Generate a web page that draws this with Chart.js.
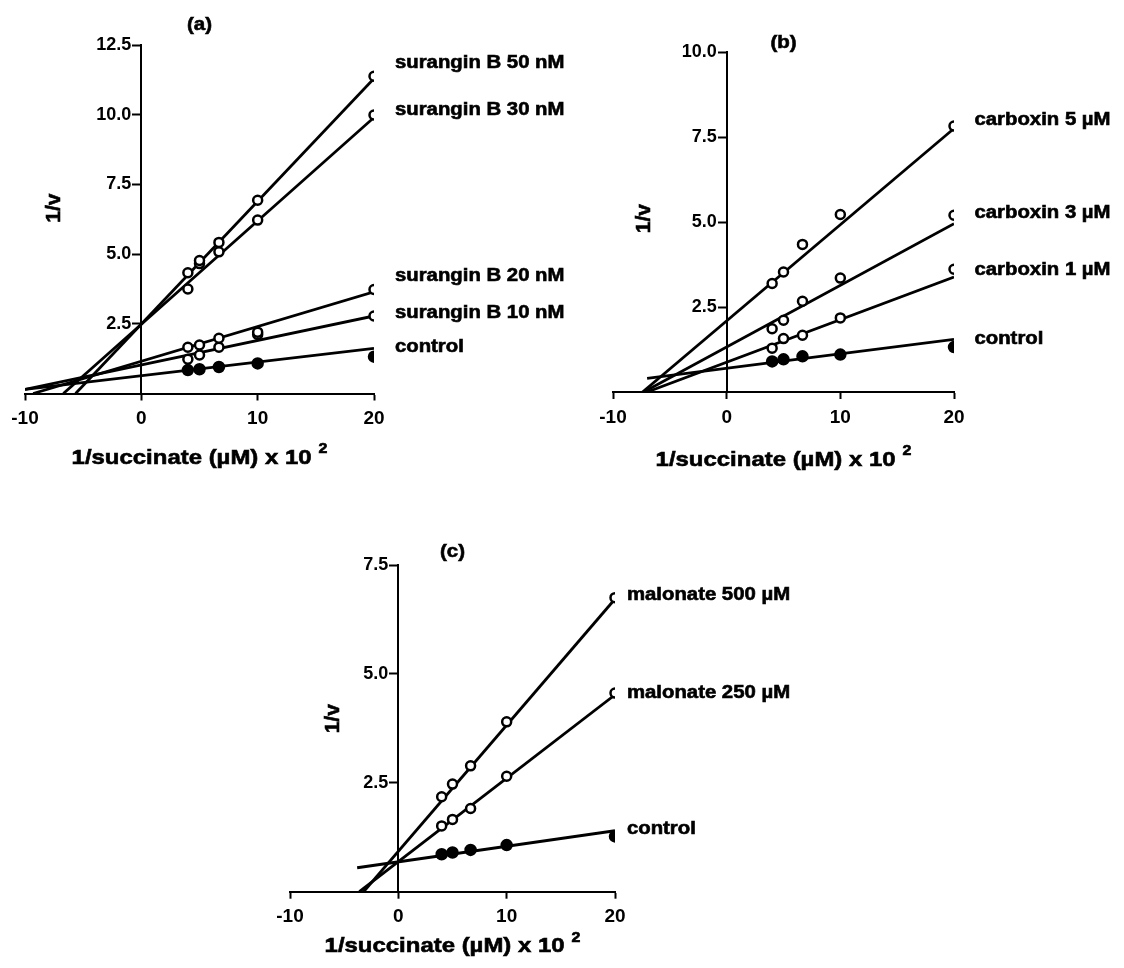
<!DOCTYPE html>
<html>
<head>
<meta charset="utf-8">
<title>Lineweaver-Burk plots</title>
<script src="https://cdn.jsdelivr.net/npm/chart.js@4.4.1/dist/chart.umd.min.js"></script>
<style>
  html, body { margin: 0; padding: 0; background: #fff; }
  body { width: 1124px; height: 968px; position: relative; overflow: hidden; }
  canvas { position: absolute; left: 0; top: 0; }
</style>
</head>
<body>
<canvas id="panelA" width="1124" height="968"></canvas>
<canvas id="panelB" width="1124" height="968"></canvas>
<canvas id="panelC" width="1124" height="968"></canvas>
<script>
// 1/succinate (uM) x 10^2 - same five concentrations in every panel
const succinateInv = [4, 5, 6.67, 10, 20];
const xTicks = [-10, 0, 10, 20];

// (a) surangin B
const suranginNames = ['surangin B 50 nM', 'surangin B 30 nM', 'surangin B 20 nM', 'surangin B 10 nM', 'control'];
const surangin50 = [4.33, 4.77, 5.42, 6.93, 11.38];
const surangin30 = [3.75, 4.66, 5.08, 6.22, 9.99];
const surangin20 = [1.66, 1.74, 1.98, 2.2, 3.73];
const surangin10 = [1.23, 1.38, 1.66, 2.12, 2.78];
const controlA = [0.84, 0.87, 0.95, 1.08, 1.32];
// fitted lines: x0, y0, x1, y1
const suranginFits = [
    [-5.65, 0, 20, 11.3],
    [-6.7, 0, 20, 9.9],
    [-9.3, 0, 20, 3.65],
    [-10, 0.15, 20, 2.78],
    [-10, 0.15, 20, 1.62]
];
const suranginLabelY = [11.85, 10.15, 4.2, 2.87, 1.68];
const yTicksA = [2.5, 5, 7.5, 10, 12.5];

// (b) carboxin
const carboxinNames = ['carboxin 5 \u00b5M', 'carboxin 3 \u00b5M', 'carboxin 1 \u00b5M', 'control'];
const carboxin5 = [3.19, 3.53, 4.34, 5.22, 7.82];
const carboxin3 = [1.86, 2.11, 2.67, 3.35, 5.2];
const carboxin1 = [1.29, 1.57, 1.67, 2.18, 3.61];
const controlB = [0.9, 0.96, 1.05, 1.1, 1.32];
const carboxinFits = [
    [-7.4, 0, 20, 7.75],
    [-7.3, 0, 20, 4.95],
    [-7, 0, 20, 3.38],
    [-7, 0.4, 20, 1.55]
];
const carboxinLabelY = [8.0, 5.25, 3.6, 1.55];
const yTicksB = [2.5, 5, 7.5, 10];

// (c) malonate
const malonateNames = ['malonate 500 \u00b5M', 'malonate 250 \u00b5M', 'control'];
const malonate500 = [2.18, 2.47, 2.89, 3.9, 6.75];
const malonate250 = [1.51, 1.66, 1.91, 2.65, 4.56];
const controlC = [0.86, 0.9, 0.96, 1.07, 1.27];
const malonateFits = [
    [-3.2, 0, 20, 6.72],
    [-3.6, 0, 20, 4.52],
    [-3.8, 0.55, 20, 1.4]
];
const malonateLabelY = [6.82, 4.57, 1.44];
const yTicksC = [2.5, 5, 7.5];

const FONT = '"Liberation Sans", Arial, Helvetica, sans-serif';
const X_AXIS_HEIGHT = 40;

// the scanned figure has wide, heavy lettering - stretch it a bit
function wideText(ctx, text, x, y, sx, align) {
    const w = ctx.measureText(text).width * sx;
    const left = align === 'center' ? x - w / 2 : x;
    ctx.save();
    ctx.translate(left, y);
    ctx.scale(sx, 1);
    ctx.textAlign = 'left';
    ctx.fillText(text, 0, 0);
    ctx.strokeText(text, 0, 0);
    ctx.restore();
    return w;
}

// draws panel letter, axis titles and the series names
function textPlugin(cfg) {
    return {
        id: 'panelText',
        afterDraw(chart) {
            const ctx = chart.ctx;
            const xs = chart.scales.x;
            const ys = chart.scales.y;
            const area = chart.chartArea;
            ctx.save();
            ctx.fillStyle = '#000';
            ctx.strokeStyle = '#000';
            ctx.lineWidth = 0.6;
            ctx.textBaseline = 'middle';

            // series names
            ctx.font = 'bold 18px ' + FONT;
            cfg.names.forEach((name, i) => {
                wideText(ctx, name, xs.getPixelForValue(cfg.labelX), ys.getPixelForValue(cfg.labelY[i]), 1.13, 'left');
            });

            // panel letter
            ctx.font = 'bold 19px ' + FONT;
            wideText(ctx, cfg.letter, xs.getPixelForValue(5), area.top - cfg.letterGap, 1.08, 'center');

            // y title
            ctx.save();
            ctx.translate(xs.getPixelForValue(cfg.yTitleAt[0]), ys.getPixelForValue(cfg.yTitleAt[1]));
            ctx.rotate(-Math.PI / 2);
            ctx.font = 'bold 20px ' + FONT;
            wideText(ctx, '1/v', 0, 0, 1.05, 'center');
            ctx.restore();

            // x title with superscript
            const main = '1/succinate (\u00b5M) x 10';
            const sx = 1.14;
            ctx.font = 'bold 21px ' + FONT;
            const wMain = ctx.measureText(main).width * sx;
            ctx.font = 'bold 14px ' + FONT;
            const wSup = ctx.measureText('2').width * sx;
            const total = wMain + 7 + wSup;
            const x0 = (area.left + area.right) / 2 - total / 2;
            const y0 = area.bottom + cfg.xTitleGap;
            ctx.font = 'bold 21px ' + FONT;
            wideText(ctx, main, x0, y0, sx, 'left');
            ctx.font = 'bold 14px ' + FONT;
            wideText(ctx, '2', x0 + wMain + 7, y0 - 9, sx, 'left');
            ctx.restore();
        }
    };
}

function axisStyle(tickLength) {
    return {
        grid: { display: true, drawOnChartArea: false, drawTicks: true, tickLength: tickLength, tickWidth: 2, tickColor: '#000' },
        border: { display: true, color: '#000', width: 2 }
    };
}

function makePanel(id, cfg) {
    const datasets = [];
    cfg.series.forEach((vals, i) => {
        const filled = i === cfg.series.length - 1;
        datasets.push({
            type: 'scatter',
            data: succinateInv.map((x, j) => ({ x: x, y: vals[j] })),
            pointRadius: filled ? 5 : 4.5,
            pointBorderWidth: 2.5,
            pointBackgroundColor: filled ? '#000' : '#fff',
            pointBorderColor: '#000',
            order: 1
        });
        const f = cfg.fits[i];
        datasets.push({
            type: 'line',
            data: [{ x: f[0], y: f[1] }, { x: f[2], y: f[3] }],
            borderColor: '#000',
            borderWidth: 2.8,
            pointRadius: 0,
            fill: false,
            order: 2
        });
    });

    const a = cfg.area;
    new Chart(document.getElementById(id), {
        type: 'scatter',
        data: { datasets: datasets },
        options: {
            responsive: false,
            animation: false,
            events: [],
            layout: {
                padding: { left: a.left, right: 1124 - a.right, top: a.top, bottom: 968 - a.bottom - X_AXIS_HEIGHT }
            },
            plugins: { legend: { display: false }, tooltip: { enabled: false } },
            scales: {
                x: Object.assign({
                    type: 'linear', position: 'bottom', min: -10, max: 20,
                    afterBuildTicks: s => { s.ticks = xTicks.map(v => ({ value: v })); },
                    afterFit: s => { s.height = X_AXIS_HEIGHT; },
                    ticks: {
                        color: '#000', padding: 7, maxRotation: 0, autoSkip: false,
                        font: { family: FONT, size: 19, weight: 'bold' },
                        callback: v => String(v)
                    }
                }, axisStyle(7)),
                y: Object.assign({
                    type: 'linear', position: { x: 0 }, min: 0, max: cfg.yMax,
                    afterBuildTicks: s => { s.ticks = cfg.yTicks.map(v => ({ value: v })); },
                    ticks: {
                        color: '#000',
                        font: { family: FONT, size: 18, weight: 'bold' },
                        // trailing spaces keep the right-aligned label clear of the tick mark
                        callback: v => v.toFixed(1) + '  '
                    }
                }, axisStyle(8))
            }
        },
        plugins: [textPlugin(cfg)]
    });
}

makePanel('panelA', {
    area: { left: 25, right: 374, top: 45, bottom: 393.5 },
    yMax: 12.5, yTicks: yTicksA,
    series: [surangin50, surangin30, surangin20, surangin10, controlA],
    fits: suranginFits, names: suranginNames, labelY: suranginLabelY, labelX: 21.8,
    letter: '(a)', letterGap: 20, yTitleAt: [-7.5, 6.65], xTitleGap: 65
});

makePanel('panelB', {
    area: { left: 613, right: 954, top: 52, bottom: 392 },
    yMax: 10, yTicks: yTicksB,
    series: [carboxin5, carboxin3, carboxin1, controlB],
    fits: carboxinFits, names: carboxinNames, labelY: carboxinLabelY, labelX: 21.8,
    letter: '(b)', letterGap: 9, yTitleAt: [-7.2, 5.1], xTitleGap: 68
});

makePanel('panelC', {
    area: { left: 290, right: 615, top: 565, bottom: 891.7 },
    yMax: 7.5, yTicks: yTicksC,
    series: [malonate500, malonate250, controlC],
    fits: malonateFits, names: malonateNames, labelY: malonateLabelY, labelX: 21.1,
    letter: '(c)', letterGap: 13, yTitleAt: [-5.94, 3.97], xTitleGap: 55
});
</script>
</body>
</html>
